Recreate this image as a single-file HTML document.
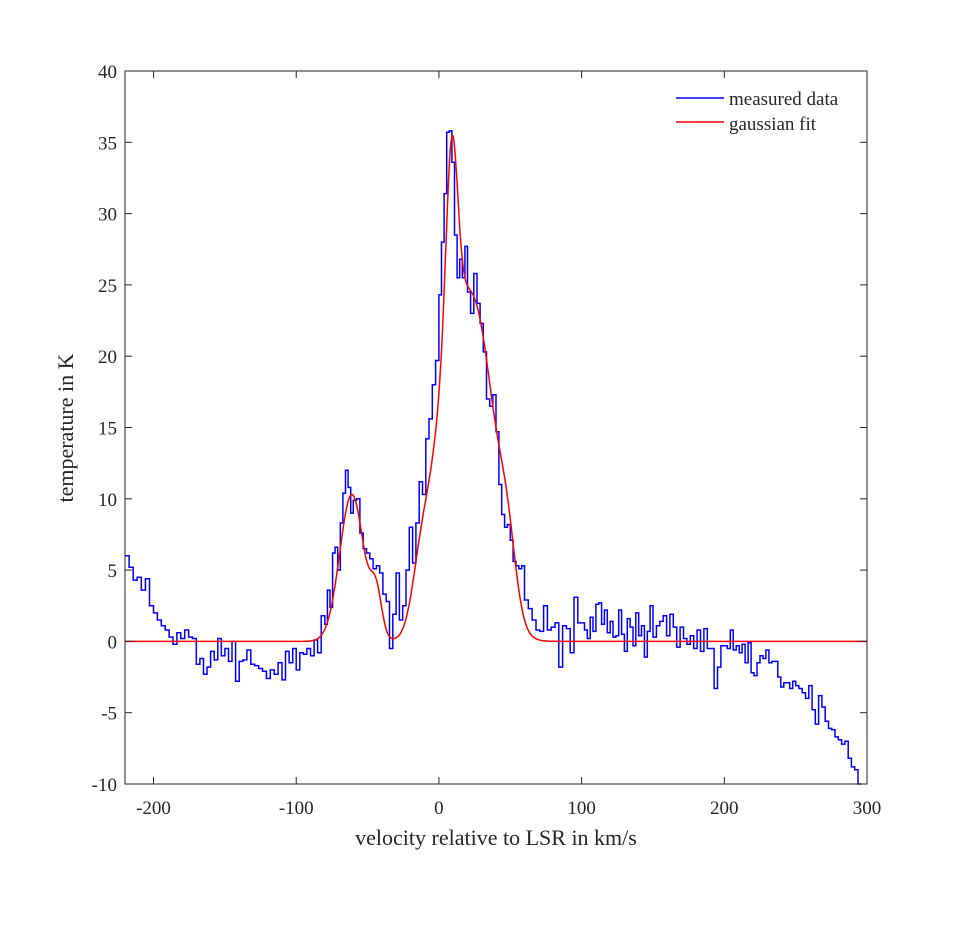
<!DOCTYPE html>
<html><head><meta charset="utf-8"><style>
body{margin:0;background:#fff}
svg text{font-family:"Liberation Serif",serif;fill:#262626}
</style></head><body>
<svg id="chart" width="959" height="927" xmlns="http://www.w3.org/2000/svg">
<rect width="959" height="927" fill="#fff"/>
<g id="plot"></g>
<g id="axes"></g>
<text x="496" y="845" font-size="22" text-anchor="middle">velocity relative to LSR in km/s</text>
<text transform="translate(73,428) rotate(-90)" font-size="22" text-anchor="middle">temperature in K</text>
<g>
<line x1="676" y1="98" x2="724" y2="98" stroke="#0000ff" stroke-width="1.5"/>
<text x="729" y="105" font-size="19">measured data</text>
<line x1="676" y1="122" x2="724" y2="122" stroke="#ff0000" stroke-width="1.5"/>
<text x="729" y="130" font-size="19">gaussian fit</text>
</g>
</svg>
<script>
const segStarts=[-220,-200,-170,-140,-110,-80,-60,-30,0,20,40,60,100,150,200,250];
const segEnds=[-200,-170,-140,-110,-80,-60,-30,0,20,40,60,100,150,200,250,296];
const segValues=[
[6,5.2,4.3,4.5,3.6,4.4,2.5],
[2,1.5,1.1,0.8,0.3,-0.2,0.6,0.2,0.8,0.3,0.2],
[-1.6,-1.2,-2.3,-1.8,-0.7,-1.3,0.2,-1,-0.5,-1.4,0,-2.8],
[-1.4,-1.3,-0.6,-1.6,-1.7,-1.9,-2.1,-2.6,-2.0,-2.3,-1.5],
[-2.7,-0.7,-1.5,-0.5,-2,-0.8,-0.9,-0.5,-1,0.1,-0.8,1.8],
[1.2,3.6,2.4,6.2,6.6,5,8.3,10.4,12,10.8,9],
[9.9,10,7.6,6.5,6.2,5.8,5.1,5.3,4.8,3.3,2.8,-0.5,1.9],
[4.8,1.5,2.5,5,8,5.5,8.3,11.2,10.3,14.2,15.6,18,19.7],
[24.3,28,31.4,35.7,35.8,33.6,28.5,25.5,26.8,25.5,27.7],
[24.5,23,25.8,23.7,22.3,20.3,17,16.5,17.3],
[14.7,11,8.9,8,8.2,7.1,5.6,5.3,5.1,5.3],
[2.9,2.3,1.5,0.8,0.7,2.5,0.8,1.0,1.3,-1.8,1.1,0.9,-0.8,3.1,1.3],
[1.3,0.8,0.2,1.7,0.7,2.6,2.7,1.2,2.2,0.6,1.4,0.3,0.4,2.2,0.5,-0.7,1.6,1.0,-0.3,2.0,0.4,1.1,-1.1,0.7,2.5],
[0.3,1.1,1.4,1.8,0.4,1.9,1.0,-0.4,1.0,0.2,-0.2,0.4,-0.5,0.8,-0.7,0.9,-0.5,-0.5,-3.3,-1.8,-0.3],
[-0.3,-0.5,0.8,-0.6,-0.3,-0.8,-0.2,-1.5,-0.1,-2.2,-2.4,-1.5,-1.0,-1.2,-0.6,-1.5,-1.4,-1.4,-2.5,-3.2,-2.9,-2.9,-3.3,-2.8],
[-3.1,-3.3,-3.6,-4.0,-3.1,-4.8,-5.8,-3.8,-4.6,-5.6,-6.1,-6.2,-6.7,-6.9,-7.2,-7.0,-8.2,-8.8,-9.0,-10]];
const fitAmps=[10.3,3,16,3,13,20,4];
const fitCenters=[-61,-44,6,-13,9,28,48];
const fitSigmas=[8.5,4,12,6,4,13,6];
const xTicks=[-200,-100,0,100,200,300];
const yTicks=[-10,-5,0,5,10,15,20,25,30,35,40];
const X0=125,X1=867,Y0=784,Y1=71,xmin=-220,xmax=300,ymin=-10,ymax=40;
const sx=v=>X0+(v-xmin)/(xmax-xmin)*(X1-X0);
const sy=v=>Y0-(v-ymin)/(ymax-ymin)*(Y0-Y1);
const NS="http://www.w3.org/2000/svg";
const plot=document.getElementById('plot'),axes=document.getElementById('axes');
function mk(t,a,p){const e=document.createElementNS(NS,t);for(const k in a)e.setAttribute(k,a[k]);p.appendChild(e);return e;}
let d='',first=true,lastEnd=xmin;
for(let s=0;s<segValues.length;s++){const vals=segValues[s],w=(segEnds[s]-segStarts[s])/vals.length;
for(let i=0;i<vals.length;i++){const a=sx(segStarts[s]+i*w),b=sx(segStarts[s]+(i+1)*w),y=sy(vals[i]);
d+=(first?'M':'L')+a.toFixed(1)+','+y.toFixed(1)+'L'+b.toFixed(1)+','+y.toFixed(1);first=false;}
lastEnd=segEnds[s];}
d+='L'+sx(lastEnd).toFixed(1)+','+sy(ymin).toFixed(1);
const sp=mk('path',{d:d,fill:'none',stroke:'#0000ff','stroke-width':1.5},plot);


let f='';
for(let v=xmin;v<=xmax;v+=0.5){let s=0;for(let k=0;k<fitAmps.length;k++)s+=fitAmps[k]*Math.exp(-Math.pow(v-fitCenters[k],2)/(2*fitSigmas[k]*fitSigmas[k]));
f+=(v===xmin?'M':'L')+sx(v).toFixed(1)+','+sy(s).toFixed(1);}
const fp=mk('path',{d:f,fill:'none',stroke:'#ff0000','stroke-width':1.5},plot);


const box=mk('rect',{x:X0,y:Y1,width:X1-X0,height:Y0-Y1,fill:'none',stroke:'#262626','stroke-width':1},axes);


xTicks.forEach(t=>{const x=sx(t);
mk('line',{x1:x,y1:Y0,x2:x,y2:Y0-7,stroke:'#262626'},axes);mk('line',{x1:x,y1:Y1,x2:x,y2:Y1+7,stroke:'#262626'},axes);
const tx=mk('text',{x:x,y:Y0+30,'font-size':19,'text-anchor':'middle'},axes);tx.textContent=t;

});
yTicks.forEach(t=>{const y=sy(t);
mk('line',{x1:X0,y1:y,x2:X0+7,y2:y,stroke:'#262626'},axes);mk('line',{x1:X1,y1:y,x2:X1-7,y2:y,stroke:'#262626'},axes);
const tx=mk('text',{x:X0-8,y:y+7,'font-size':19,'text-anchor':'end'},axes);tx.textContent=t;

});
</script>
</body></html>
